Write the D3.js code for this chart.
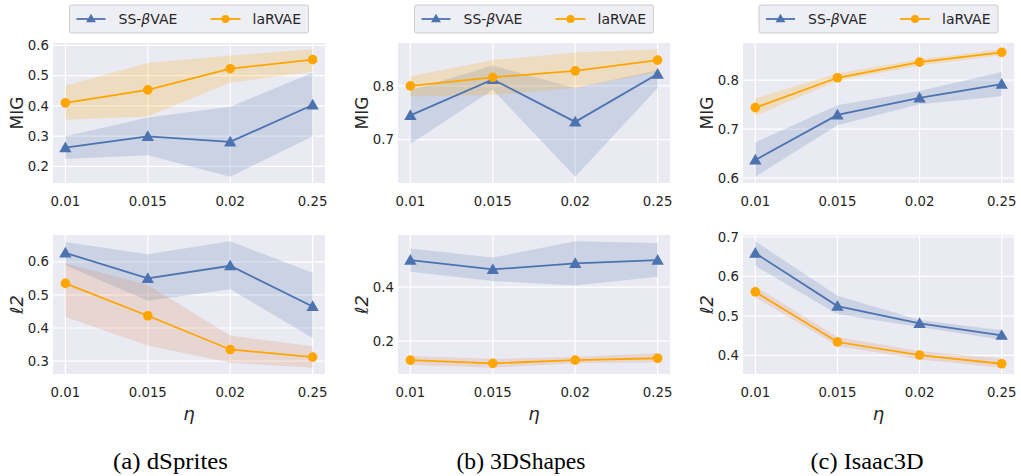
<!DOCTYPE html>
<html>
<head>
<meta charset="utf-8">
<script src="https://cdn.jsdelivr.net/npm/d3@7"></script>
<style>
  body { margin: 0; background: #fff; }
  svg { display: block; }
  text { fill: #262626; font-family: "DejaVu Sans", sans-serif; }
  text.cap { font-family: "Liberation Serif", "Times New Roman", serif; fill: #000; }
</style>
</head>
<body>
<script>
// eta values on the x axis (categorical)
const etaLabels = ["0.01", "0.015", "0.02", "0.25"];

// --- MIG ---
const migSsDsprites = [0.262, 0.299, 0.281, 0.403];
const migSsDspritesLo = [0.224, 0.237, 0.166, 0.300];
const migSsDspritesHi = [0.300, 0.362, 0.397, 0.510];
const migLaDsprites = [0.410, 0.453, 0.523, 0.553];
const migLaDspritesLo = [0.354, 0.365, 0.477, 0.513];
const migLaDspritesHi = [0.467, 0.542, 0.567, 0.587];

const migSs3dshapes = [0.745, 0.812, 0.733, 0.822];
const migSs3dshapesLo = [0.692, 0.793, 0.631, 0.796];
const migSs3dshapesHi = [0.792, 0.838, 0.796, 0.829];
const migLa3dshapes = [0.800, 0.816, 0.828, 0.848];
const migLa3dshapesLo = [0.780, 0.783, 0.796, 0.826];
const migLa3dshapesHi = [0.818, 0.848, 0.862, 0.868];

const migSsIsaac = [0.637, 0.729, 0.764, 0.792];
const migSsIsaacLo = [0.603, 0.708, 0.751, 0.767];
const migSsIsaacHi = [0.673, 0.749, 0.778, 0.817];
const migLaIsaac = [0.744, 0.805, 0.837, 0.857];
const migLaIsaacLo = [0.727, 0.799, 0.830, 0.851];
const migLaIsaacHi = [0.763, 0.814, 0.843, 0.863];

// --- l2 ---
const l2SsDsprites = [0.627, 0.550, 0.588, 0.465];
const l2SsDspritesLo = [0.590, 0.482, 0.517, 0.370];
const l2SsDspritesHi = [0.660, 0.623, 0.662, 0.567];
const l2LaDsprites = [0.535, 0.437, 0.335, 0.312];
const l2LaDspritesLo = [0.433, 0.347, 0.295, 0.280];
const l2LaDspritesHi = [0.595, 0.530, 0.377, 0.345];

const l2Ss3dshapes = [0.500, 0.466, 0.488, 0.500];
const l2Ss3dshapesLo = [0.457, 0.423, 0.406, 0.439];
const l2Ss3dshapesHi = [0.543, 0.510, 0.570, 0.564];
const l2La3dshapes = [0.130, 0.118, 0.130, 0.137];
const l2La3dshapesLo = [0.112, 0.102, 0.118, 0.122];
const l2La3dshapesHi = [0.145, 0.135, 0.142, 0.156];

const l2SsIsaac = [0.659, 0.525, 0.481, 0.451];
const l2SsIsaacLo = [0.627, 0.504, 0.472, 0.440];
const l2SsIsaacHi = [0.689, 0.551, 0.490, 0.464];
const l2LaIsaac = [0.561, 0.434, 0.401, 0.379];
const l2LaIsaacLo = [0.547, 0.424, 0.390, 0.369];
const l2LaIsaacHi = [0.575, 0.447, 0.411, 0.392];

// y tick labels per panel
const migTicksDsprites = [0.2, 0.3, 0.4, 0.5, 0.6];
const migTicks3dshapes = [0.7, 0.8];
const migTicksIsaac = [0.6, 0.7, 0.8];
const l2TicksDsprites = [0.3, 0.4, 0.5, 0.6];
const l2Ticks3dshapes = [0.2, 0.4];
const l2TicksIsaac = [0.4, 0.5, 0.6, 0.7];

const captions = ["(a) dSprites", "(b) 3DShapes", "(c) Isaac3D"];

const BLUE = "#4C72B0";
const ORANGE = "#FFA500";

const width = 1021, height = 476;
const svg = d3.select("body").append("svg")
  .attr("width", width).attr("height", height);

const cols = [[53, 325], [398, 670], [743, 1014]];
const rows = [[43, 183], [235, 374]];
const captionX = [[170.5, 115], [521, 129], [867, 113]];

const panels = [
  { col: 0, row: 0, label: "MIG", ticks: migTicksDsprites,
    ss: [migSsDsprites, migSsDspritesLo, migSsDspritesHi],
    la: [migLaDsprites, migLaDspritesLo, migLaDspritesHi] },
  { col: 1, row: 0, label: "MIG", ticks: migTicks3dshapes,
    ss: [migSs3dshapes, migSs3dshapesLo, migSs3dshapesHi],
    la: [migLa3dshapes, migLa3dshapesLo, migLa3dshapesHi] },
  { col: 2, row: 0, label: "MIG", ticks: migTicksIsaac,
    ss: [migSsIsaac, migSsIsaacLo, migSsIsaacHi],
    la: [migLaIsaac, migLaIsaacLo, migLaIsaacHi] },
  { col: 0, row: 1, label: "l2", ticks: l2TicksDsprites,
    ss: [l2SsDsprites, l2SsDspritesLo, l2SsDspritesHi],
    la: [l2LaDsprites, l2LaDspritesLo, l2LaDspritesHi] },
  { col: 1, row: 1, label: "l2", ticks: l2Ticks3dshapes,
    ss: [l2Ss3dshapes, l2Ss3dshapesLo, l2Ss3dshapesHi],
    la: [l2La3dshapes, l2La3dshapesLo, l2La3dshapesHi] },
  { col: 2, row: 1, label: "l2", ticks: l2TicksIsaac,
    ss: [l2SsIsaac, l2SsIsaacLo, l2SsIsaacHi],
    la: [l2LaIsaac, l2LaIsaacLo, l2LaIsaacHi] },
];

const triangle = d3.symbol().type(d3.symbolTriangle);

panels.forEach((p) => {
  const [x0, x1] = cols[p.col];
  const [y0, y1] = rows[p.row];
  const g = svg.append("g");

  const x = d3.scalePoint().domain(d3.range(etaLabels.length)).range([x0, x1]).padding(0.15);
  const all = p.ss[1].concat(p.ss[2], p.la[1], p.la[2]);
  const lo = d3.min(all), hi = d3.max(all), pad = (hi - lo) * 0.05;
  const y = d3.scaleLinear().domain([lo - pad, hi + pad]).range([y1, y0]);

  g.append("rect").attr("x", x0).attr("y", y0)
    .attr("width", x1 - x0).attr("height", y1 - y0).attr("fill", "#EAEAF2");

  // grid
  g.selectAll(".gx").data(d3.range(etaLabels.length)).enter().append("line")
    .attr("x1", (d) => x(d)).attr("x2", (d) => x(d))
    .attr("y1", y0).attr("y2", y1)
    .attr("stroke", "#fff").attr("stroke-width", 1.2);
  g.selectAll(".gy").data(p.ticks).enter().append("line")
    .attr("x1", x0).attr("x2", x1)
    .attr("y1", (d) => y(d)).attr("y2", (d) => y(d))
    .attr("stroke", "#fff").attr("stroke-width", 1.2);

  // tick labels
  g.selectAll(".tx").data(etaLabels).enter().append("text")
    .attr("x", (d, i) => x(i)).attr("y", y1 + 23)
    .attr("text-anchor", "middle").attr("font-size", 13.3).text((d) => d);
  g.selectAll(".ty").data(p.ticks).enter().append("text")
    .attr("x", x0 - 4).attr("y", (d) => y(d)).attr("dy", "0.35em")
    .attr("text-anchor", "end").attr("font-size", 13.3).text((d) => d.toFixed(1));

  // y label
  const yl = g.append("text")
    .attr("transform", `translate(${x0 - 30},${(y0 + y1) / 2}) rotate(-90)`)
    .attr("text-anchor", "middle").attr("font-size", 17);
  if (p.label === "MIG") yl.text("MIG");
  else yl.attr("font-style", "italic").attr("font-size", 18).text("\u21132");

  if (p.row === 1) {
    g.append("text").attr("x", (x0 + x1) / 2).attr("y", y1 + 46)
      .attr("text-anchor", "middle").attr("font-size", 18)
      .attr("font-style", "italic").text("\u03b7");
  }

  const area = d3.area().x((d, i) => x(i)).y0((d) => y(d[0])).y1((d) => y(d[1]));
  const line = d3.line().x((d, i) => x(i)).y((d) => y(d));
  const zip = (a, b) => a.map((v, i) => [v, b[i]]);

  g.append("path").attr("d", area(zip(p.ss[1], p.ss[2])))
    .attr("fill", BLUE).attr("fill-opacity", 0.2);
  g.append("path").attr("d", area(zip(p.la[1], p.la[2])))
    .attr("fill", p.row === 0 ? ORANGE : "#DD8452").attr("fill-opacity", 0.2);

  g.append("path").attr("d", line(p.ss[0])).attr("fill", "none")
    .attr("stroke", BLUE).attr("stroke-width", 1.8);
  g.append("path").attr("d", line(p.la[0])).attr("fill", "none")
    .attr("stroke", ORANGE).attr("stroke-width", 1.8);

  g.selectAll(".ms").data(p.ss[0]).enter().append("path")
    .attr("d", triangle.size(66)())
    .attr("transform", (d, i) => `translate(${x(i)},${y(d) + 1})`)
    .attr("fill", BLUE);
  g.selectAll(".ml").data(p.la[0]).enter().append("circle")
    .attr("cx", (d, i) => x(i)).attr("cy", (d) => y(d)).attr("r", 4.8)
    .attr("fill", ORANGE);

  // legend on top row
  if (p.row === 0) {
    const lw = 239, lh = 28;
    const lx = (x0 + x1) / 2 - lw / 2, ly = 5;
    const lg = svg.append("g").attr("transform", `translate(${lx},${ly})`);
    lg.append("rect").attr("width", lw).attr("height", lh).attr("rx", 2)
      .attr("fill", "#EAEAF2").attr("fill-opacity", 0.8)
      .attr("stroke", "#CCCCCC").attr("stroke-width", 1);
    lg.append("line").attr("x1", 7).attr("x2", 36).attr("y1", 14).attr("y2", 14)
      .attr("stroke", BLUE).attr("stroke-width", 1.8);
    lg.append("path").attr("d", triangle.size(42)())
      .attr("transform", "translate(21.5,14.5)").attr("fill", BLUE);
    const t1 = lg.append("text").attr("x", 49).attr("y", 14).attr("dy", "0.36em")
      .attr("font-size", 14);
    t1.append("tspan").text("SS-");
    t1.append("tspan").attr("font-style", "italic").text("\u03b2");
    t1.append("tspan").text("VAE");
    lg.append("line").attr("x1", 141).attr("x2", 171).attr("y1", 14).attr("y2", 14)
      .attr("stroke", ORANGE).attr("stroke-width", 1.8);
    lg.append("circle").attr("cx", 156).attr("cy", 14).attr("r", 4)
      .attr("fill", ORANGE);
    lg.append("text").attr("x", 183).attr("y", 14).attr("dy", "0.36em")
      .attr("font-size", 14).text("laRVAE");
  }
});

svg.selectAll(".cap").data(captions).enter().append("text")
  .attr("class", "cap")
  .attr("x", (d, i) => captionX[i][0]).attr("y", 469)
  .attr("text-anchor", "middle")
  .attr("font-size", 23)
  .attr("textLength", (d, i) => captionX[i][1])
  .attr("lengthAdjust", "spacingAndGlyphs")
  .text((d) => d);
</script>
</body>
</html>
